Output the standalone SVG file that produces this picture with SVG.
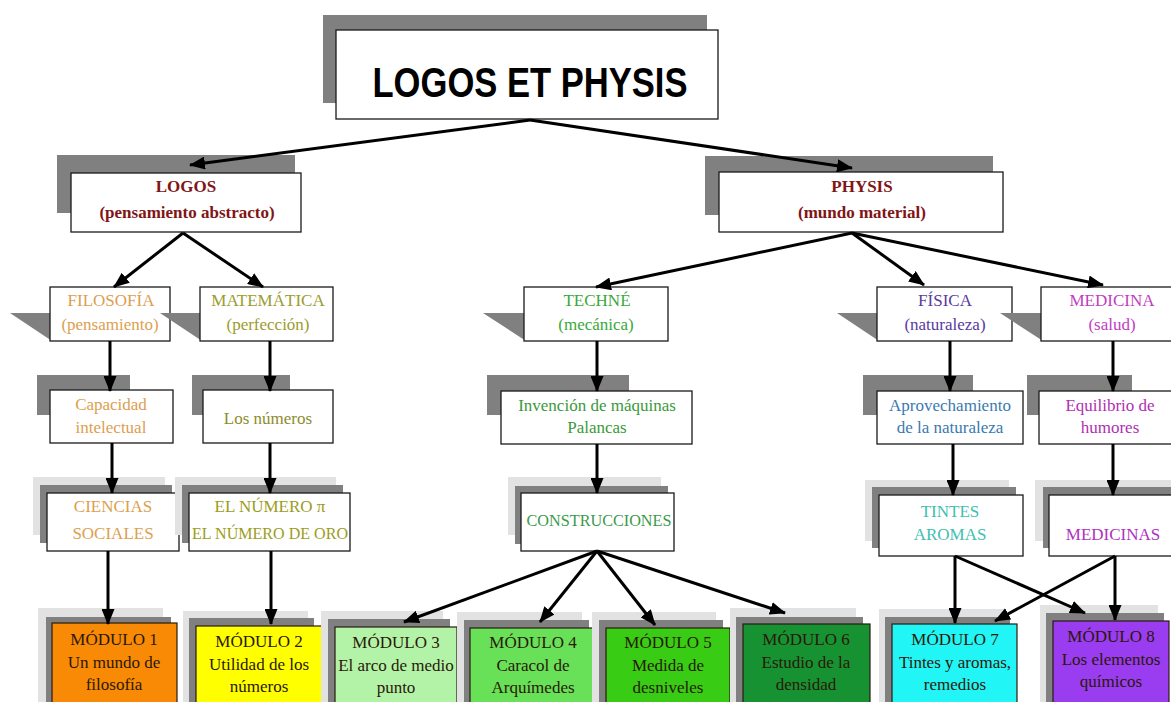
<svg xmlns="http://www.w3.org/2000/svg" width="1171" height="702" viewBox="0 0 1171 702">
<defs>
<style>
.bx{fill:#fff;stroke:#1a1a1a;stroke-width:1.3}
.sd{fill:#808080}
.sl{fill:#e2e2e2}
.md{stroke:#2a1a10;stroke-width:1.2}
.t{font-family:"Liberation Serif","Times New Roman",serif;font-size:17px;text-anchor:middle}
.mt{font-family:"Liberation Serif","Times New Roman",serif;font-size:17px;text-anchor:middle;fill:#2a1808}
.cn line{stroke:#000;stroke-width:3;marker-end:url(#ah)}
</style>
<marker id="ah" viewBox="0 0 16 13" refX="15" refY="6.5" markerWidth="16" markerHeight="13" markerUnits="userSpaceOnUse" orient="auto"><path d="M0,0 L16,6.5 L0,13 z" fill="#000"/></marker>
</defs>
<rect width="1171" height="702" fill="#fff"/>

<g id="title">
<rect class="sd" x="323" y="15" width="384" height="88"/>
<rect class="bx" x="336" y="30" width="382" height="89" stroke-width="1.5"/>
<text x="530" y="97" font-family="Liberation Sans,Arial,sans-serif" font-weight="bold" font-size="42" text-anchor="middle" textLength="315" lengthAdjust="spacingAndGlyphs">LOGOS ET PHYSIS</text>
</g>

<g id="logos">
<rect class="sd" x="57" y="155" width="238" height="58"/>
<rect class="bx" x="71" y="173" width="230" height="59"/>
<text class="t" x="186" y="192" fill="#7f1515" font-weight="bold" font-size="18">LOGOS</text>
<text class="t" x="187" y="218" fill="#7f1515" font-weight="bold">(pensamiento abstracto)</text>
</g>

<g id="physis">
<rect class="sd" x="705" y="156" width="288" height="59"/>
<rect class="bx" x="719" y="172" width="284" height="60"/>
<text class="t" x="862" y="192" fill="#7f1515" font-weight="bold" font-size="18">PHYSIS</text>
<text class="t" x="862" y="218" fill="#7f1515" font-weight="bold">(mundo material)</text>
</g>

<g id="filosofia">
<polygon class="sd" points="10,313 52,313 52,341"/>
<rect class="bx" x="50" y="287" width="120" height="54"/>
<text class="t" x="111" y="306" fill="#dca050">FILOSOFÍA</text>
<text class="t" x="110" y="330" fill="#dca050">(pensamiento)</text>
</g>

<g id="matematica">
<polygon class="sd" points="160,313 202,313 202,341"/>
<rect class="bx" x="200" y="287" width="133" height="54"/>
<text class="t" x="268" y="306" fill="#9c9c30">MATEMÁTICA</text>
<text class="t" x="268" y="330" fill="#9c9c30">(perfección)</text>
</g>

<g id="techne">
<polygon class="sd" points="483,313 526,313 526,341"/>
<rect class="bx" x="524" y="287" width="144" height="54"/>
<text class="t" x="597" y="306" fill="#3aa83a">TECHNÉ</text>
<text class="t" x="596" y="330" fill="#3aa83a">(mecánica)</text>
</g>

<g id="fisica">
<polygon class="sd" points="837,313 879,313 879,341"/>
<rect class="bx" x="877" y="287" width="135" height="54"/>
<text class="t" x="945" y="306" fill="#5a3aa0">FÍSICA</text>
<text class="t" x="945" y="330" fill="#5a3aa0">(naturaleza)</text>
</g>

<g id="medicina">
<polygon class="sd" points="1000,313 1043,313 1043,341"/>
<rect class="bx" x="1041" y="287" width="140" height="54"/>
<text class="t" x="1112" y="306" fill="#c040c0">MEDICINA</text>
<text class="t" x="1112" y="330" fill="#c040c0">(salud)</text>
</g>

<g id="capacidad">
<rect class="sd" x="37" y="375" width="93" height="40"/>
<rect class="bx" x="50" y="390" width="123" height="53"/>
<text class="t" x="111" y="410" fill="#dca050">Capacidad</text>
<text class="t" x="111" y="433" fill="#dca050">intelectual</text>
</g>

<g id="numeros">
<rect class="sd" x="192" y="375" width="98" height="40"/>
<rect class="bx" x="203" y="390" width="130" height="53"/>
<text class="t" x="268" y="424" fill="#8c8c2c">Los números</text>
</g>

<g id="invencion">
<rect class="sd" x="487" y="375" width="142" height="40"/>
<rect class="bx" x="501" y="391" width="191" height="53"/>
<text class="t" x="597" y="411" fill="#3a9a3a">Invención de máquinas</text>
<text class="t" x="597" y="433" fill="#3a9a3a">Palancas</text>
</g>

<g id="aprovechamiento">
<rect class="sd" x="863" y="375" width="110" height="40"/>
<rect class="bx" x="877" y="391" width="146" height="53"/>
<text class="t" x="950" y="411" fill="#3a7ab0">Aprovechamiento</text>
<text class="t" x="950" y="433" fill="#3a7ab0">de la naturaleza</text>
</g>

<g id="equilibrio">
<rect class="sd" x="1027" y="375" width="105" height="40"/>
<rect class="bx" x="1039" y="391" width="140" height="53"/>
<text class="t" x="1110" y="411" fill="#b030b0">Equilibrio de</text>
<text class="t" x="1110" y="433" fill="#b030b0">humores</text>
</g>

<g id="ciencias">
<rect class="sl" x="33" y="477" width="132" height="58"/>
<rect class="sd" x="40" y="485" width="132" height="58"/>
<rect class="bx" x="47" y="493" width="132" height="58"/>
<text class="t" x="113" y="512" fill="#dca050">CIENCIAS</text>
<text class="t" x="113" y="539" fill="#dca050">SOCIALES</text>
</g>

<g id="numero-pi">
<rect class="sl" x="175" y="477" width="161" height="58"/>
<rect class="sd" x="182" y="485" width="161" height="58"/>
<rect class="bx" x="189" y="493" width="161" height="58"/>
<text class="t" x="270" y="512" fill="#9c9c20">EL NÚMERO π</text>
<text class="t" x="270" y="539" fill="#9c9c20" textLength="156" lengthAdjust="spacingAndGlyphs">EL NÚMERO DE ORO</text>
</g>

<g id="construcciones">
<rect class="sl" x="508" y="477" width="153" height="58"/>
<rect class="sd" x="515" y="486" width="153" height="58"/>
<rect class="bx" x="521" y="493" width="153" height="58"/>
<text class="t" x="599" y="526" fill="#3a9a4a" textLength="145" lengthAdjust="spacingAndGlyphs">CONSTRUCCIONES</text>
</g>

<g id="tintes">
<rect class="sl" x="865" y="480" width="144" height="61"/>
<rect class="sd" x="872" y="487" width="144" height="61"/>
<rect class="bx" x="879" y="495" width="144" height="61"/>
<text class="t" x="950" y="517" fill="#40c0b0">TINTES</text>
<text class="t" x="950" y="540" fill="#40c0b0">AROMAS</text>
</g>

<g id="medicinas">
<rect class="sl" x="1035" y="480" width="144" height="61"/>
<rect class="sd" x="1043" y="487" width="144" height="61"/>
<rect class="bx" x="1049" y="495" width="144" height="61"/>
<text class="t" x="1113" y="540" fill="#b030c0">MEDICINAS</text>
</g>

<g id="modulo1">
<rect class="sl" x="38" y="608" width="125" height="100"/>
<rect class="sd" x="46" y="617" width="125" height="100"/>
<rect class="md" x="52" y="623" width="125" height="90" fill="#f88a05"/>
<text class="mt" x="114" y="645">MÓDULO 1</text>
<text class="mt" x="114" y="668">Un mundo de</text>
<text class="mt" x="114" y="690">filosofía</text>
</g>

<g id="modulo2">
<rect class="sl" x="183" y="611" width="125" height="100"/>
<rect class="sd" x="189" y="618" width="125" height="100"/>
<rect class="md" x="196" y="626" width="126" height="90" fill="#ffff00"/>
<text class="mt" x="259" y="647">MÓDULO 2</text>
<text class="mt" x="259" y="670">Utilidad de los</text>
<text class="mt" x="259" y="692">números</text>
</g>

<g id="modulo3">
<rect class="sl" x="321" y="611" width="122" height="100"/>
<rect class="sd" x="328" y="619" width="122" height="100"/>
<rect class="md" x="335" y="627" width="122" height="90" fill="#b3f3a8"/>
<text class="mt" x="396" y="648">MÓDULO 3</text>
<text class="mt" x="396" y="671">El arco de medio</text>
<text class="mt" x="396" y="693">punto</text>
</g>

<g id="modulo4">
<rect class="sl" x="457" y="612" width="125" height="100"/>
<rect class="sd" x="464" y="620" width="125" height="100"/>
<rect class="md" x="470" y="628" width="126" height="90" fill="#68e058"/>
<text class="mt" x="533" y="648">MÓDULO 4</text>
<text class="mt" x="533" y="671">Caracol de</text>
<text class="mt" x="533" y="693">Arquímedes</text>
</g>

<g id="modulo5">
<rect class="sl" x="592" y="612" width="124" height="100"/>
<rect class="sd" x="599" y="620" width="124" height="100"/>
<rect class="md" x="606" y="628" width="124" height="90" fill="#38cc14"/>
<text class="mt" x="668" y="648">MÓDULO 5</text>
<text class="mt" x="668" y="671">Medida de</text>
<text class="mt" x="668" y="693">desniveles</text>
</g>

<g id="modulo6">
<rect class="sl" x="730" y="608" width="126" height="100"/>
<rect class="sd" x="736" y="617" width="127" height="100"/>
<rect class="md" x="743" y="624" width="127" height="90" fill="#169232"/>
<text class="mt" x="806" y="645">MÓDULO 6</text>
<text class="mt" x="806" y="668">Estudio de la</text>
<text class="mt" x="806" y="690">densidad</text>
</g>

<g id="modulo7">
<rect class="sl" x="879" y="609" width="125" height="100"/>
<rect class="sd" x="885" y="617" width="125" height="100"/>
<rect class="md" x="892" y="624" width="125" height="90" fill="#22f5f5"/>
<text class="mt" x="955" y="645">MÓDULO 7</text>
<text class="mt" x="955" y="668">Tintes y aromas,</text>
<text class="mt" x="955" y="690">remedios</text>
</g>

<g id="modulo8">
<rect class="sl" x="1040" y="605" width="118" height="100"/>
<rect class="sd" x="1046" y="613" width="118" height="100"/>
<rect class="md" x="1053" y="621" width="116" height="90" fill="#9a3cf0"/>
<text class="mt" x="1111" y="642">MÓDULO 8</text>
<text class="mt" x="1111" y="665">Los elementos</text>
<text class="mt" x="1111" y="687">químicos</text>
</g>

<g id="connectors" class="cn">
<line x1="530" y1="120" x2="190" y2="165"/>
<line x1="530" y1="120" x2="852" y2="168"/>
<line x1="183" y1="233" x2="114" y2="287"/>
<line x1="183" y1="233" x2="263" y2="287"/>
<line x1="852" y1="233" x2="596" y2="287"/>
<line x1="852" y1="233" x2="924" y2="285"/>
<line x1="852" y1="233" x2="1103" y2="285"/>
<line x1="110" y1="341" x2="110" y2="391"/>
<line x1="270" y1="341" x2="270" y2="391"/>
<line x1="597" y1="341" x2="597" y2="391"/>
<line x1="950" y1="341" x2="950" y2="391"/>
<line x1="1113" y1="341" x2="1113" y2="391"/>
<line x1="112" y1="443" x2="112" y2="493"/>
<line x1="270" y1="443" x2="270" y2="493"/>
<line x1="597" y1="444" x2="597" y2="493"/>
<line x1="953" y1="444" x2="953" y2="495"/>
<line x1="1113" y1="444" x2="1113" y2="495"/>
<line x1="108" y1="551" x2="108" y2="624"/>
<line x1="271" y1="551" x2="271" y2="624"/>
<line x1="597" y1="551" x2="404" y2="622"/>
<line x1="597" y1="551" x2="540" y2="622"/>
<line x1="597" y1="551" x2="655" y2="625"/>
<line x1="597" y1="551" x2="785" y2="613"/>
<line x1="955" y1="556" x2="955" y2="623"/>
<line x1="955" y1="556" x2="1085" y2="613"/>
<line x1="1115" y1="556" x2="995" y2="621"/>
<line x1="1115" y1="556" x2="1115" y2="620"/>
</g>
</svg>
